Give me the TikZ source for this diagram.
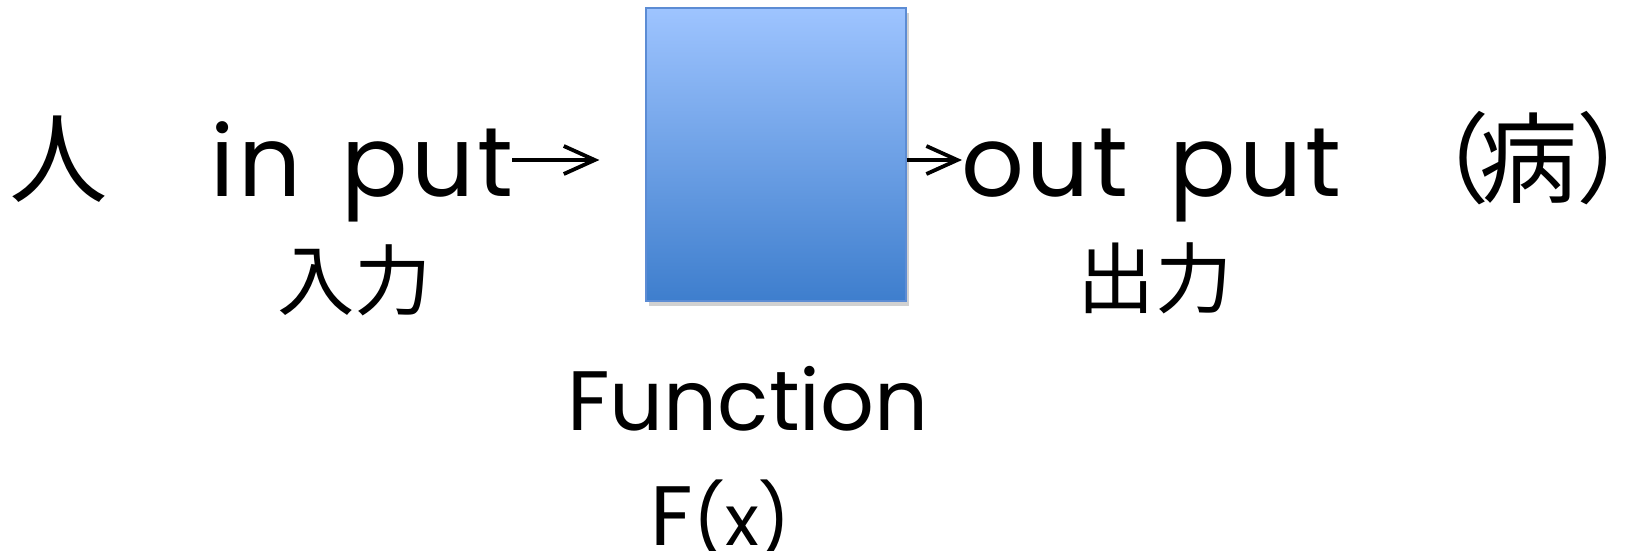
\documentclass[tikz,border=0pt]{standalone}
\usepackage{fontspec}
\setmainfont{Poppins}
\newfontfamily\wide{Poppins}[LetterSpace=3, WordSpace=1.4]
\newfontfamily\jp{Noto Sans CJK JP}
\usetikzlibrary{arrows.meta,shadows}
\definecolor{boxtop}{RGB}{158,196,255}
\definecolor{boxbot}{RGB}{62,126,205}
\definecolor{boxline}{RGB}{92,140,212}
\tikzset{
  word/.style={inner sep=0pt, anchor=base, font=\wide\fontsize{28}{32}\selectfont},
  label/.style={inner sep=0pt, anchor=base, font=\fontsize{24}{28}\selectfont},
  kanji/.style={inner sep=0pt, font=\jp\fontsize{28}{32}\selectfont},
  kana/.style={inner sep=0pt, font=\jp\fontsize{22}{26}\selectfont},
  funcbox/.style={draw=boxline, line width=0.35pt, top color=boxtop, bottom color=boxbot,
    minimum width=26mm, minimum height=29.3mm, inner sep=0pt,
    drop shadow={shadow xshift=0.25mm, shadow yshift=-0.45mm, opacity=0.3, fill=black!60}},
  arr/.style={line width=0.45mm, -{Straight Barb[length=3.1mm, width=2.8mm, line width=0.38mm]}},
}
\begin{document}
\begin{tikzpicture}[x=0.1mm, y=-0.1mm]
  \useasboundingbox (0,0) rectangle (1628,550);
  % the function block
  \node[funcbox] (box) at (776,154.5) {};
  % left side: person and input
  \node[kanji] (person) at (59,159) {人};
  \node[word] (inp) at (362,196) {in put};
  \node[kana] (inpjp) at (355,280) {入力};
  % right side: output and illness (brackets hug the character)
  \node[word] (outp) at (1151,196) {out put};
  \node[kana] (outpjp) at (1155,278) {出力};
  \node[kanji] (ill) at (1529,158) {\llap{（\kern-3pt}病\rlap{\kern-0.5pt）}};
  % caption under the block
  \node[label] (fname) at (748,430) {Function};
  \node[label, anchor=base west] (fx) at (650,545) {F{\fontsize{20}{22}\selectfont(x)}};
  % arrows into and out of the block
  \coordinate (instart) at (512,160);
  \coordinate (outend) at (962,160);
  \draw[arr, shorten >=4.6mm] (instart) -- (instart -| box.west);
  \draw[arr] (instart -| box.east) -- (outend);
\end{tikzpicture}
\end{document}
